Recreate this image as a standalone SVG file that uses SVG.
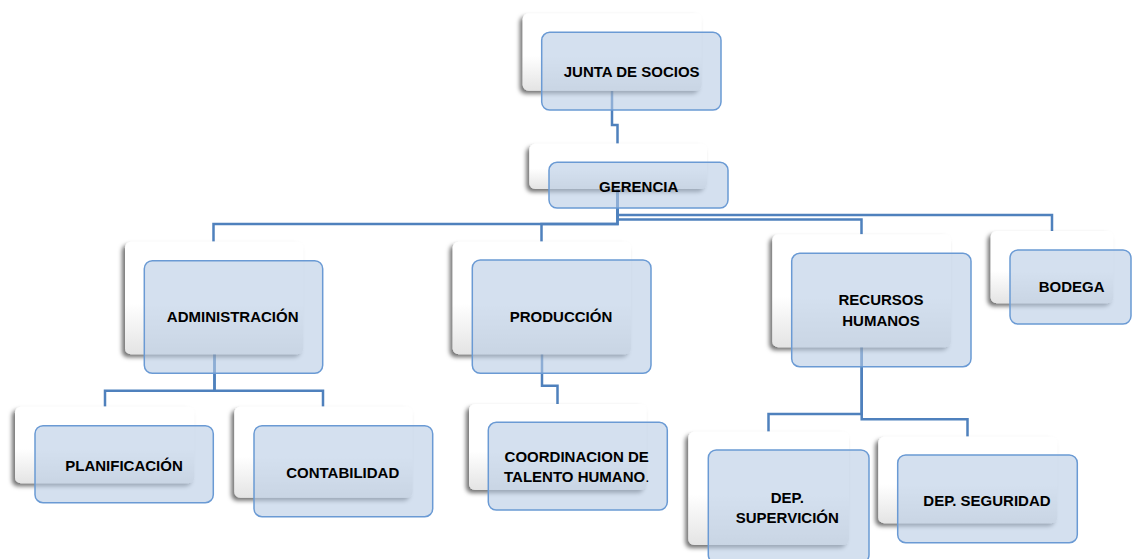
<svg xmlns="http://www.w3.org/2000/svg" width="1132" height="559" viewBox="0 0 1132 559">
<style>
.conn{fill:none;stroke:#4f81bd;stroke-width:2.5;stroke-linejoin:miter}
.w{fill:url(#wg);filter:url(#sh)}
.b{fill:#b8cce4;fill-opacity:0.6;stroke:#6a9ad4;stroke-width:1.5}
.t{font-family:"Liberation Sans",Arial,sans-serif;font-weight:bold;font-size:15px;fill:#000;text-anchor:middle}
</style>
<defs>
<linearGradient id="wg" x1="0" y1="0" x2="0" y2="1">
<stop offset="0" stop-color="#ffffff"/>
<stop offset="0.55" stop-color="#ffffff"/>
<stop offset="1" stop-color="#e4e4e4"/>
</linearGradient>
<filter id="sh" x="-10%" y="-10%" width="120%" height="130%">
<feDropShadow dx="-3" dy="3" stdDeviation="2" flood-color="#000" flood-opacity="0.55"/>
</filter>
</defs>
<rect width="1132" height="559" fill="#fff"/>
<g id="connectors">
<path class="conn" d="M612,91 V125 H617.5 V143.5"/>
<path class="conn" d="M617.5,189 V224 H213.5 V241.5"/>
<path class="conn" d="M617.5,189 V224 H541.5 V241.5"/>
<path class="conn" d="M617.5,189 V219.5 H861.5 V234.5"/>
<path class="conn" d="M617.5,189 V215 H1052 V231"/>
<path class="conn" d="M214.5,354 V390.7 H105 V406.5"/>
<path class="conn" d="M214.5,354 V390.7 H323 V406.5"/>
<path class="conn" d="M542,354 V385.7 H557.5 V404"/>
<path class="conn" d="M861.7,347 V419.3 H967.5 V436.5"/>
<path class="conn" d="M861.7,347 V414 H768.5 V431.5"/>
</g>
<g id="junta">
<rect class="w" x="522.7" y="13.3" width="179" height="77.4" rx="6"/>
<rect class="b" x="541.7" y="32.3" width="179.3" height="77.7" rx="8"/>
<text class="t" x="631.7" y="77.3">JUNTA DE SOCIOS</text>
</g>
<g id="gerencia">
<rect class="w" x="529.3" y="143.7" width="177.7" height="45.3" rx="6"/>
<rect class="b" x="549" y="162.3" width="179" height="45.7" rx="8"/>
<text class="t" x="638.7" y="192.3">GERENCIA</text>
</g>
<g id="administracion">
<rect class="w" x="125" y="241.7" width="178.3" height="112.6" rx="6"/>
<rect class="b" x="144.3" y="260.7" width="178.4" height="112.6" rx="8"/>
<text class="t" x="232.7" y="321.7">ADMINISTRACIÓN</text>
</g>
<g id="produccion">
<rect class="w" x="452.7" y="241.7" width="178.3" height="112.6" rx="6"/>
<rect class="b" x="472.3" y="260" width="178.7" height="113.3" rx="8"/>
<text class="t" x="561" y="322">PRODUCCIÓN</text>
</g>
<g id="recursos-humanos">
<rect class="w" x="772.3" y="234.3" width="178.7" height="113" rx="6"/>
<rect class="b" x="791.7" y="253.3" width="179.3" height="113.4" rx="8"/>
<text class="t" x="881" y="305">RECURSOS</text>
<text class="t" x="881" y="326">HUMANOS</text>
</g>
<g id="bodega">
<rect class="w" x="990.7" y="231" width="122.6" height="72.3" rx="6"/>
<rect class="b" x="1010" y="250" width="121" height="74" rx="8"/>
<text class="t" x="1071.7" y="291.7">BODEGA</text>
</g>
<g id="planificacion">
<rect class="w" x="15" y="406.7" width="179.3" height="76.6" rx="6"/>
<rect class="b" x="35" y="425.7" width="178.3" height="77" rx="8"/>
<text class="t" x="124" y="470.7">PLANIFICACIÓN</text>
</g>
<g id="contabilidad">
<rect class="w" x="234.3" y="406.7" width="178.4" height="91" rx="6"/>
<rect class="b" x="254" y="425.7" width="178.7" height="91" rx="8"/>
<text class="t" x="342.7" y="478.3">CONTABILIDAD</text>
</g>
<g id="coordinacion">
<rect class="w" x="469" y="404" width="177.7" height="86" rx="6"/>
<rect class="b" x="488.3" y="422.3" width="179" height="87.7" rx="8"/>
<text class="t" x="576.7" y="461.7">COORDINACION DE</text>
<text class="t" x="576.7" y="482.3">TALENTO HUMANO<tspan font-weight="normal">.</tspan></text>
</g>
<g id="supervision">
<rect class="w" x="688.3" y="431.7" width="160.7" height="113.3" rx="6"/>
<rect class="b" x="708.3" y="450" width="160.7" height="113" rx="8"/>
<text class="t" x="787.3" y="503.3">DEP.</text>
<text class="t" x="787.3" y="523.3">SUPERVICIÓN</text>
</g>
<g id="seguridad">
<rect class="w" x="878.3" y="436.7" width="179" height="86.6" rx="6"/>
<rect class="b" x="897.7" y="455" width="179.6" height="87.7" rx="8"/>
<text class="t" x="987" y="505.7">DEP. SEGURIDAD</text>
</g>
</svg>
